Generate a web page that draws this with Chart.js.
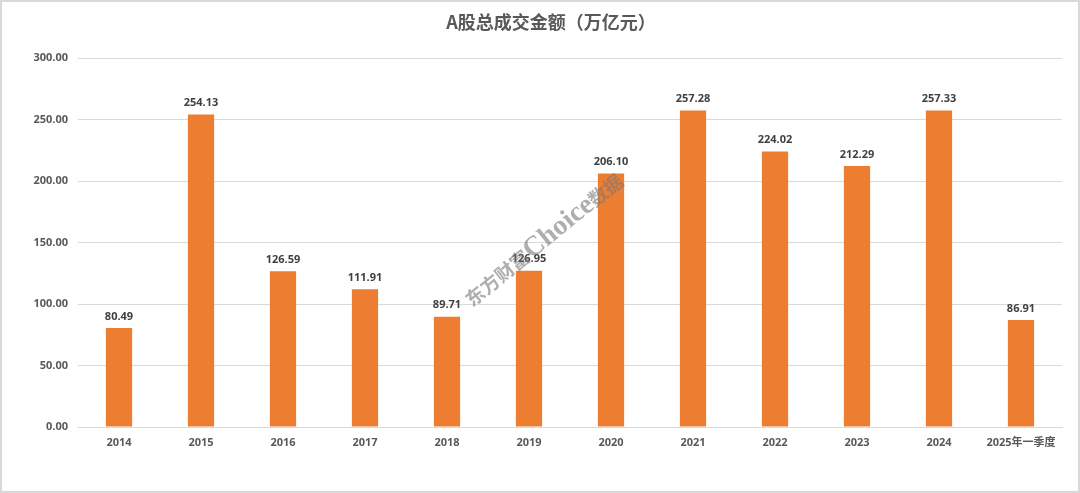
<!DOCTYPE html>
<html><head><meta charset="utf-8">
<script src="https://cdn.jsdelivr.net/npm/chart.js@4/dist/chart.umd.min.js"></script>
<style>html,body{margin:0;padding:0;background:#fff}#wrap{width:1080px;height:493px;position:relative}</style>
</head><body><div id="wrap"><canvas id="c" width="1080" height="493"></canvas></div>
<script>
const categories = ["2014","2015","2016","2017","2018","2019","2020","2021","2022","2023","2024","2025年一季度"];
const turnover = [80.49,254.13,126.59,111.91,89.71,126.95,206.10,257.28,224.02,212.29,257.33,86.91];
const yTicks = [0,50,100,150,200,250,300];
const titleText = "A股总成交金额（万亿元）";
const watermarkText = "东方财富Choice数据";

const FONT = "'Open Sans','Noto Sans CJK SC',sans-serif";

const decor = {
  id: 'decor',
  beforeDraw(chart){
    const ctx = chart.ctx;
    ctx.save();
    ctx.fillStyle = '#fff';
    ctx.fillRect(0,0,chart.width,chart.height);
    ctx.restore();
  },
  afterDatasetsDraw(chart){
    const ctx = chart.ctx;
    const meta = chart.getDatasetMeta(0);
    ctx.save();
    ctx.font = "bold 11px " + FONT;
    ctx.fillStyle = '#404040';
    ctx.textAlign = 'center';
    ctx.textBaseline = 'bottom';
    meta.data.forEach((bar,i)=>{
      ctx.fillText(turnover[i].toFixed(2), bar.x, bar.y - 6);
    });
    ctx.restore();
  },
  afterDraw(chart){
    const ctx = chart.ctx;
    ctx.save();
    // title
    ctx.font = "bold 18px 'Noto Sans CJK SC',sans-serif";
    ctx.fillStyle = '#595959';
    ctx.textAlign = 'center';
    ctx.textBaseline = 'middle';
    ctx.fillText(titleText, 551, 22);
    // watermark
    ctx.translate(544, 240);
    ctx.rotate(-39*Math.PI/180);
    ctx.fillStyle = 'rgba(120,120,120,0.6)';
    ctx.textBaseline = 'middle';
    ctx.textAlign = 'left';
    const parts = [["东方财富","bold 19px 'Noto Sans CJK SC',serif"],["Choice","bold 28px 'Liberation Serif',serif"],["数据","bold 19px 'Noto Sans CJK SC',serif"]];
    let total = 0;
    parts.forEach(p=>{ctx.font=p[1]; total += ctx.measureText(p[0]).width;});
    let x = -total/2;
    parts.forEach(p=>{ctx.font=p[1]; ctx.fillText(p[0], x, 0); x += ctx.measureText(p[0]).width;});
    ctx.restore();
    // border
    ctx.save();
    ctx.strokeStyle = '#d9d9d9';
    ctx.lineWidth = 2;
    ctx.strokeRect(1,1,chart.width-2,chart.height-2);
    ctx.restore();
  }
};

new Chart(document.getElementById('c'), {
  type: 'bar',
  data: {
    labels: categories,
    datasets: [{ data: turnover, backgroundColor: '#ED7D31', categoryPercentage: 1, barPercentage: 0.32 }]
  },
  options: {
    responsive: false,
    animation: false,
    layout: { padding: { top: 58, right: 18, left: 0, bottom: 0 } },
    plugins: { legend: { display: false }, tooltip: { enabled: false }, title: { display: false } },
    scales: {
      x: {
        grid: { display: false, drawTicks: false },
        border: { color: '#d9d9d9', width: 1 },
        ticks: { color: '#595959', font: { family: FONT, size: 11, weight: 'bold' }, padding: 9, maxRotation: 0, autoSkip: false },
        afterFit(s){ s.height = 66; }
      },
      y: {
        min: 0, max: 300,
        afterBuildTicks(s){ s.ticks = yTicks.map(v=>({value:v})); },
        grid: { color: '#d9d9d9', drawTicks: false },
        border: { display: false },
        ticks: { color: '#595959', font: { family: FONT, size: 11, weight: 'bold' }, padding: 10, callback: v => Number(v).toFixed(2) },
        afterFit(s){ s.width = 78; }
      }
    }
  },
  plugins: [decor]
});
</script></body></html>
